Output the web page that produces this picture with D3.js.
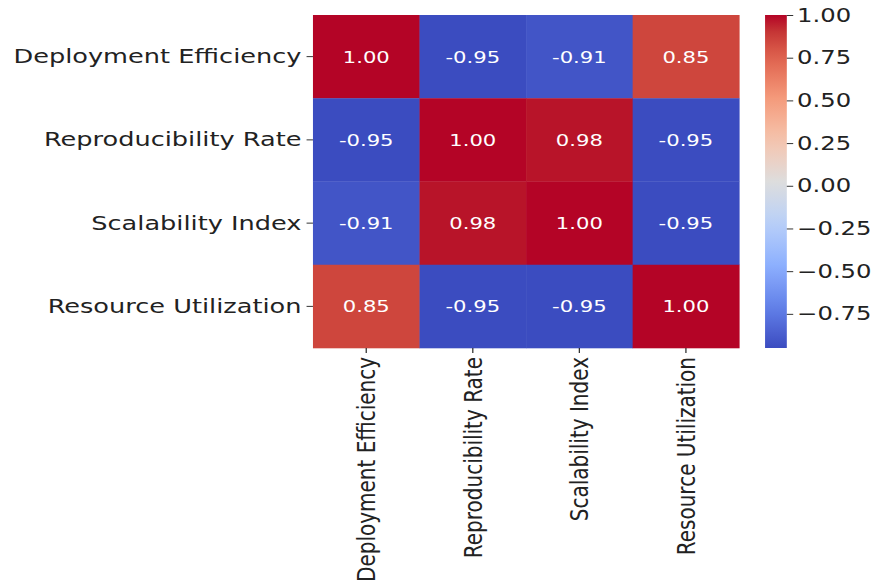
<!DOCTYPE html>
<html>
<head>
<meta charset="utf-8">
<title>Correlation Heatmap</title>
<script src="https://d3js.org/d3.v7.min.js"></script>
<style>
  body { margin: 0; background: #fff; }
  svg text { font-family: "DejaVu Sans", sans-serif; }
  .tick line { stroke: #333; }
  .domain { display: none; }
</style>
</head>
<body>
<script>
// data
var metrics = ["Deployment Efficiency", "Reproducibility Rate", "Scalability Index", "Resource Utilization"];
var rowDeployment = [1.00, -0.95, -0.91, 0.85];
var rowReproducibility = [-0.95, 1.00, 0.98, -0.95];
var rowScalability = [-0.91, 0.98, 1.00, -0.95];
var rowResource = [0.85, -0.95, -0.95, 1.00];
var colorbarTicks = [-0.75, -0.5, -0.25, 0, 0.25, 0.5, 0.75, 1.0];

var matrix = [rowDeployment, rowReproducibility, rowScalability, rowResource];

// the picture is stretched sideways, so draw square cells and let the viewBox stretch them
var W = 875, H = 587, sx = 1.28;
var vw = W / sx;

var svg = d3.select("body").append("svg")
    .attr("width", W)
    .attr("height", H)
    .attr("viewBox", "0 0 " + vw + " " + H)
    .attr("preserveAspectRatio", "none");

var mLeft = 244.5, mTop = 15, size = 333;

// coolwarm colormap
var cwStops = ["#3b4cc0", "#6282ea", "#8db0fe", "#b8d0f9", "#dddddd", "#f5c4ad", "#f49a7b", "#de604d", "#b40426"];
var cw = d3.scaleLinear()
    .domain(d3.range(cwStops.length).map(function(i) { return i / (cwStops.length - 1); }))
    .range(cwStops)
    .interpolate(d3.interpolateLab);

var flat = [];
matrix.forEach(function(row, i) {
  row.forEach(function(v, j) { flat.push({r: i, c: j, v: v}); });
});
var vmin = d3.min(flat, function(d) { return d.v; });
var vmax = d3.max(flat, function(d) { return d.v; });
var norm = d3.scaleLinear().domain([vmin, vmax]).range([0, 1]);
var color = function(v) { return cw(norm(v)); };

var x = d3.scaleBand().domain(metrics).range([mLeft, mLeft + size]);
var y = d3.scaleBand().domain(metrics).range([mTop, mTop + size]);

// cells
svg.append("g").selectAll("rect")
    .data(flat)
  .enter().append("rect")
    .attr("x", function(d) { return x(metrics[d.c]); })
    .attr("y", function(d) { return y(metrics[d.r]); })
    .attr("width", x.bandwidth() + 0.3)
    .attr("height", y.bandwidth() + 0.3)
    .attr("fill", function(d) { return color(d.v); });

// annotations
svg.append("g").selectAll("text")
    .data(flat)
  .enter().append("text")
    .attr("x", function(d) { return x(metrics[d.c]) + x.bandwidth() / 2; })
    .attr("y", function(d) { return y(metrics[d.r]) + y.bandwidth() / 2; })
    .attr("text-anchor", "middle")
    .attr("dy", "0.36em")
    .attr("fill", "#fff")
    .style("font-size", "16.5px")
    .text(function(d) { return d.v.toFixed(2); });

// y axis
var yAxis = svg.append("g")
    .attr("transform", "translate(" + mLeft + ",0)")
    .call(d3.axisLeft(y).tickSize(5).tickPadding(4));
yAxis.selectAll("text").style("font-size", "20px").attr("fill", "#222");

// x axis, labels rotated
var xAxis = svg.append("g")
    .attr("transform", "translate(0," + (mTop + size) + ")")
    .call(d3.axisBottom(x).tickSize(5).tickPadding(3));
xAxis.selectAll("text")
    .style("font-size", "20px")
    .attr("fill", "#222")
    .attr("text-anchor", "end")
    .attr("transform", "rotate(-90)")
    .attr("x", -9)
    .attr("y", 0)
    .attr("dy", "0.35em");

// colorbar
var cbX = 597.7, cbW = 17;
var cbScale = d3.scaleLinear().domain([vmin, vmax]).range([mTop + size, mTop]);

var grad = svg.append("defs").append("linearGradient")
    .attr("id", "cbgrad")
    .attr("x1", 0).attr("y1", 1).attr("x2", 0).attr("y2", 0);
d3.range(0, 1.0001, 0.05).forEach(function(t) {
  grad.append("stop")
      .attr("offset", t)
      .attr("stop-color", cw(t));
});

svg.append("rect")
    .attr("x", cbX)
    .attr("y", mTop)
    .attr("width", cbW)
    .attr("height", size)
    .attr("fill", "url(#cbgrad)");

var cbAxis = svg.append("g")
    .attr("transform", "translate(" + (cbX + cbW) + ",0)")
    .call(d3.axisRight(cbScale).tickValues(colorbarTicks).tickFormat(d3.format(".2f")).tickSize(5).tickPadding(3));
cbAxis.selectAll("text").style("font-size", "19px").attr("fill", "#222");
</script>
</body>
</html>
